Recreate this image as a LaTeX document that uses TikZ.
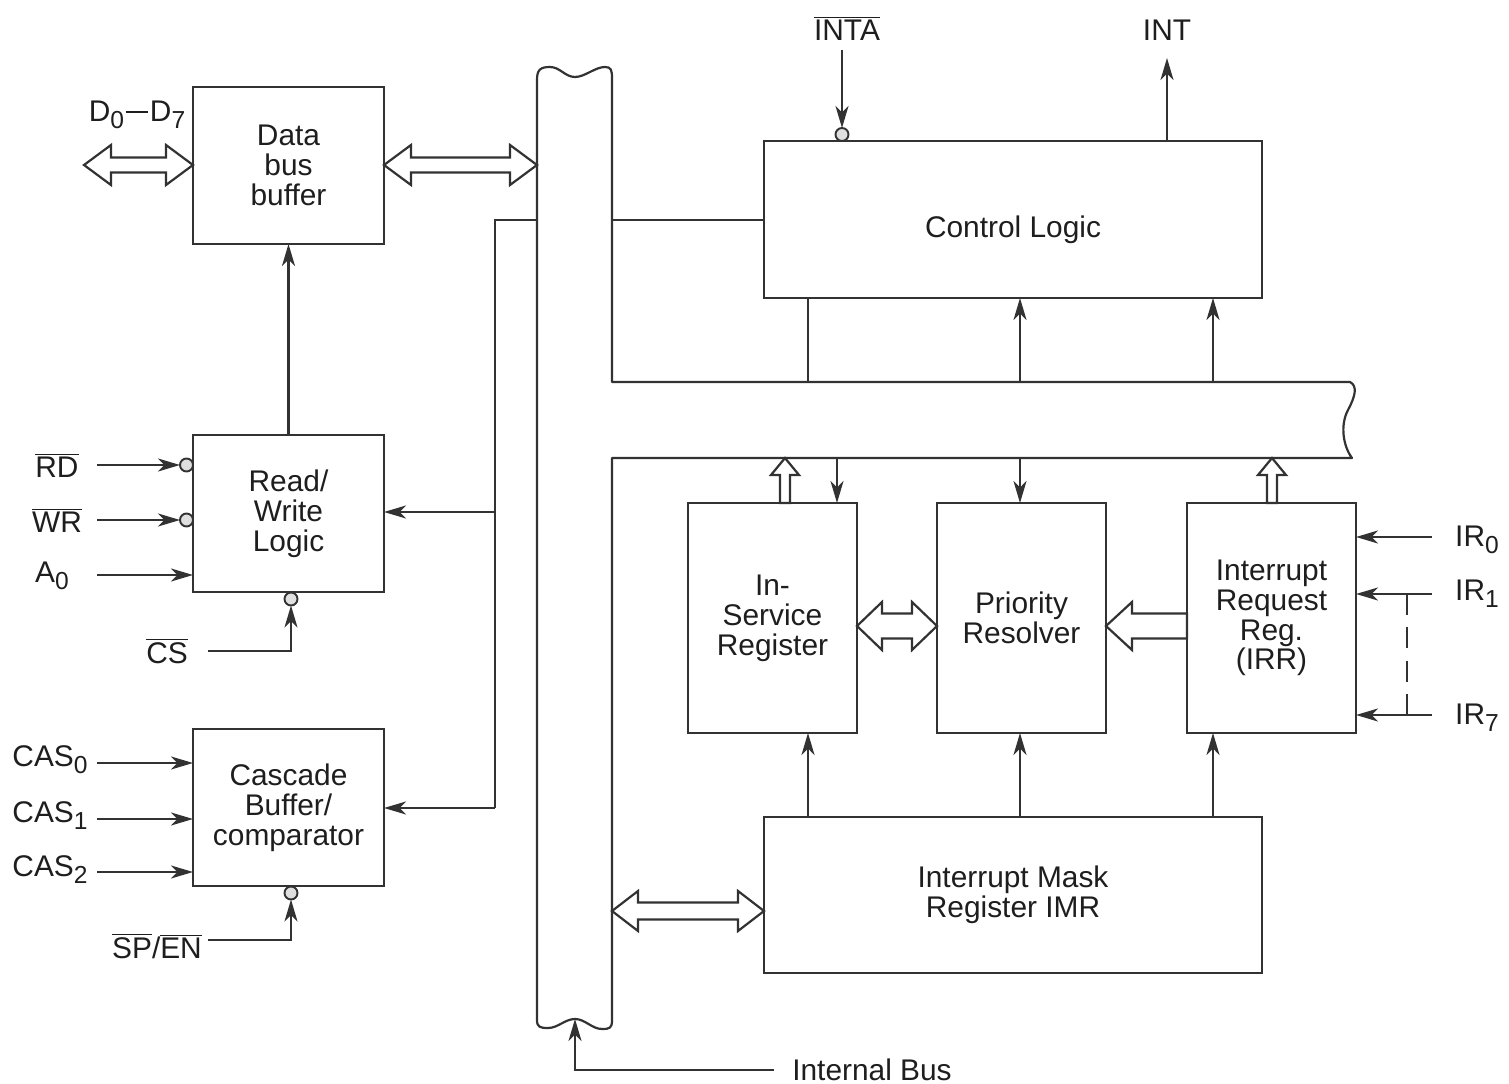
\documentclass[tikz,border=0pt]{standalone}
\usepackage{fontspec}
\setmainfont{Liberation Sans}
\usetikzlibrary{arrows.meta}
\definecolor{ln}{RGB}{50,50,50}
\definecolor{tx}{RGB}{30,30,30}
\newcommand{\sbs}[1]{\raisebox{-0.45ex}{\fontsize{14}{14}\selectfont #1}}
\newcommand{\ovl}[1]{$\overline{\hbox{#1}}$}
% horizontal double hollow arrow: left x, right x, y, shaft half, head half, head length
\newcommand{\hdbl}[6]{\draw[hol] (#1,#3) -- ({#1+#6},{#3-#5}) -- ({#1+#6},{#3-#4}) -- ({#2-#6},{#3-#4}) -- ({#2-#6},{#3-#5}) -- (#2,#3) -- ({#2-#6},{#3+#5}) -- ({#2-#6},{#3+#4}) -- ({#1+#6},{#3+#4}) -- ({#1+#6},{#3+#5}) -- cycle;}
% left-pointing hollow arrow: tip x, tail x, y, shaft half, head half, head length
\newcommand{\hlft}[6]{\draw[hol] (#1,#3) -- ({#1+#6},{#3-#5}) -- ({#1+#6},{#3-#4}) -- (#2,{#3-#4}) -- (#2,{#3+#4}) -- ({#1+#6},{#3+#4}) -- ({#1+#6},{#3+#5}) -- cycle;}
% up-pointing hollow arrow: x, tip y, tail y, shaft half, head half, head length
\newcommand{\vup}[6]{\draw[hol] (#1,#2) -- ({#1+#5},{#2+#6}) -- ({#1+#4},{#2+#6}) -- ({#1+#4},#3) -- ({#1-#4},#3) -- ({#1-#4},{#2+#6}) -- ({#1-#5},{#2+#6}) -- cycle;}
\begin{document}
\begin{tikzpicture}[x=0.02cm,y=-0.02cm,
  every node/.style={text=tx, font=\fontsize{17}{17}\selectfont},
  box/.style={draw=ln, line width=1.25pt, inner sep=0pt, outer sep=0pt, align=center},
  wire/.style={draw=ln, line width=1.25pt},
  arr/.style={wire, -{Stealth[length=4.4mm,width=2.6mm,inset=1.3mm]}},
  hol/.style={draw=ln, line width=1.25pt, fill=white, line join=miter},
  inv/.style={circle, draw=ln, line width=1.1pt, fill=gray!25, minimum size=0.26cm, inner sep=0pt, outer sep=0pt},
  lbl/.style={inner sep=0pt}]
\useasboundingbox (0,0) rectangle (1509,1084);

% ---- internal bus outline ----
\draw[wire, line join=round] (612,382) -- (1350,382)
  .. controls (1358,386) and (1355,397) .. (1348,410)
  .. controls (1340,425) and (1343,446) .. (1352,458)
  -- (612,458) -- (612,1020)
  .. controls (612,1028) and (610,1029) .. (602,1029)
  .. controls (592,1029) and (585,1019) .. (575,1019)
  .. controls (565,1019) and (558,1028) .. (548,1028)
  .. controls (540,1028) and (537,1027) .. (537,1020)
  -- (537,80)
  .. controls (537,70) and (540,67) .. (550,67)
  .. controls (560,67) and (565,77) .. (575,77)
  .. controls (585,77) and (595,67) .. (605,67)
  .. controls (611,67) and (612,70) .. (612,78)
  -- cycle;

% ---- boxes ----
\node[box, minimum width=3.82cm, minimum height=3.14cm] (dbb) at (288.5,165.5) {Data\\bus\\buffer};
\node[box, minimum width=3.82cm, minimum height=3.14cm] (rw) at (288.5,513.5) {Read/\\Write\\Logic};
\node[box, minimum width=3.82cm, minimum height=3.14cm] (cas) at (288.5,807.5) {Cascade\\Buffer/\\comparator};
\node[box, minimum width=9.96cm, minimum height=3.14cm, text height=2.2ex+0.45cm] (cl) at (1013,219.5) {Control Logic};
\node[box, minimum width=3.38cm, minimum height=4.6cm] (isr) at (772.5,618) {In-\\Service\\Register};
\node[box, minimum width=3.38cm, minimum height=4.6cm] (pr) at (1021.5,618) {Priority\\Resolver};
\node[box, minimum width=3.38cm, minimum height=4.6cm] (irr) at (1271.5,618) {Interrupt\\Request\\Reg.\\(IRR)};
\node[box, minimum width=9.96cm, minimum height=3.12cm] (imr) at (1013,895) {Interrupt Mask\\Register IMR};

% ---- labels ----
\node[lbl] (d07) at (137,115) {D\sbs{0}\kern1pt\rule[0.3em]{0.75em}{0.07em}\kern1ptD\sbs{7}};
\node[lbl] (rd) at (57,465) {\ovl{RD}};
\node[lbl] (wr) at (57,520) {\ovl{WR}};
\node[lbl] (a0) at (52,576) {A\sbs{0}};
\node[lbl] (cs) at (167,651) {\ovl{CS}};
\node[lbl] (cas0) at (50,760) {CAS\sbs{0}};
\node[lbl] (cas1) at (50,816) {CAS\sbs{1}};
\node[lbl] (cas2) at (50,870) {CAS\sbs{2}};
\node[lbl] (spen) at (157,946) {\ovl{SP}/\ovl{EN}};
\node[lbl] (inta) at (847,28) {\ovl{INTA}};
\node[lbl] (int) at (1167,30) {INT};
\node[lbl] (ir0) at (1477,540) {IR\sbs{0}};
\node[lbl] (ir1) at (1477,594) {IR\sbs{1}};
\node[lbl] (ir7) at (1477,718) {IR\sbs{7}};
\node[lbl] (ib) at (872,1070) {Internal Bus};

% ---- inverting circles ----
\node[inv] (crd) at (186.5,465) {};
\node[inv] (cwr) at (186.5,520) {};
\node[inv] (ccs) at (291,599) {};
\node[inv] (csp) at (291,893) {};
\node[inv] (cin) at (842,134.5) {};

% ---- hollow bus arrows ----
\hdbl{84}{193}{165}{7.5}{20}{27}
\hdbl{384}{537}{165}{7.5}{20}{27}
\hdbl{857}{937}{626}{12.5}{24}{25}
\hlft{1106}{1187}{626}{12.5}{24}{26}
\hdbl{612}{764}{911}{8.5}{20}{26}
\vup{785}{458}{503}{5}{14}{17}
\vup{1272}{458}{503}{5}{14}{17}

% ---- left side wires ----
\draw[arr] (rw.north) -- (dbb.south);
\draw[arr] (97,465) -- (crd.west);
\draw[arr] (97,520) -- (cwr.west);
\draw[arr] (97,575) -- (rw.west |- 0,575);
\draw[arr] (208,651) -- (291,651) -- (ccs.south);
\draw[arr] (97,763) -- (cas.west |- 0,763);
\draw[arr] (97,819) -- (cas.west |- 0,819);
\draw[arr] (97,872) -- (cas.west |- 0,872);
\draw[arr] (208,940) -- (291,940) -- (csp.south);
\draw[wire] (537,220) -- (495,220) -- (495,808);
\draw[arr] (495,512) -- (rw.east |- 0,512);
\draw[arr] (495,808) -- (cas.east |- 0,808);

% ---- control logic wires ----
\draw[wire] (612,220) -- (cl.west |- 0,220);
\draw[arr] (842,50) -- (cin.north);
\draw[arr] (cl.north -| 1167,0) -- (1167,58);
\draw[wire] (cl.south -| 808,0) -- (808,382);
\draw[arr] (1020,382) -- (cl.south -| 1020,0);
\draw[arr] (1213,382) -- (cl.south -| 1213,0);

% ---- bus to registers ----
\draw[arr] (837,458) -- (isr.north -| 837,0);
\draw[arr] (1020,458) -- (pr.north -| 1020,0);

% ---- IMR up arrows ----
\draw[arr] (imr.north -| 808,0) -- (isr.south -| 808,0);
\draw[arr] (imr.north -| 1020,0) -- (pr.south -| 1020,0);
\draw[arr] (imr.north -| 1213,0) -- (irr.south -| 1213,0);

% ---- IR inputs ----
\draw[arr] (1432,537) -- (irr.east |- 0,537);
\draw[arr] (1432,594) -- (irr.east |- 0,594);
\draw[arr] (1432,715) -- (irr.east |- 0,715);
\draw[wire, dash pattern=on 12pt off 7pt] (1407,594) -- (1407,715);

% ---- internal bus pointer ----
\draw[arr] (ib.west) ++(-18,0) coordinate (ibs) -- (575,1070) -- (575,1019);
\end{tikzpicture}
\end{document}
